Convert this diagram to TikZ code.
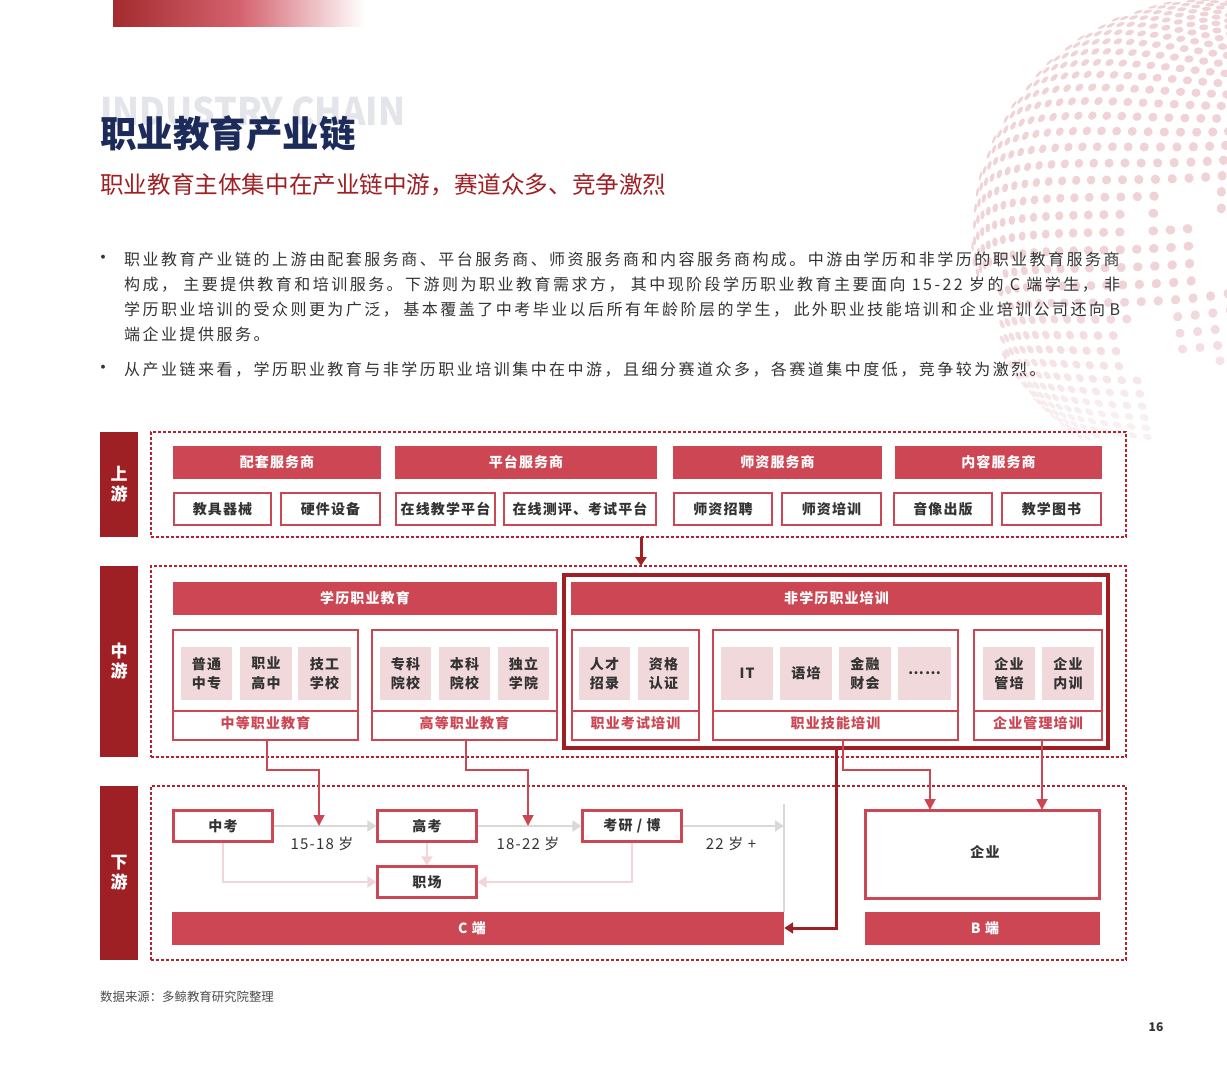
\documentclass[tikz,border=0pt]{standalone}
\usepackage{fontspec}
\usepackage{xcolor}
\setmainfont{Noto Sans CJK SC}
\newfontfamily\bodyfont[LetterSpace=15.5]{Noto Sans CJK SC}
\newfontfamily\boxfont[LetterSpace=8]{Noto Sans CJK SC}
\usetikzlibrary{arrows.meta,positioning,calc}
\definecolor{navy}{HTML}{1C2B5A}
\definecolor{darkred}{HTML}{9E2024}
\definecolor{midred}{HTML}{CC4654}
\definecolor{tilepink}{HTML}{F1D8DB}
\definecolor{linkpink}{HTML}{F2D5D8}
\definecolor{dotpink}{HTML}{EFD3D7}
\definecolor{inkgray}{HTML}{333333}
\definecolor{wash}{HTML}{E4E5EA}
\definecolor{dashred}{HTML}{B5212E}
\tikzset{
    hdrbox/.style={fill=midred, text=white, inner sep=0pt, font=\boxfont\bfseries\fontsize{14}{17}\selectfont},
    subbox/.style={draw=midred, line width=2.1pt, fill=white, text=inkgray, inner sep=0pt, font=\boxfont\bfseries\fontsize{14}{17}\selectfont},
    tilebox/.style={fill=tilepink, text=inkgray, inner sep=0pt, align=center, minimum height=53pt, font=\boxfont\bfseries\fontsize{14}{19.5}\selectfont},
    groupbox/.style={draw=midred, line width=1.6pt, fill=white, inner sep=0pt},
    grouptag/.style={text=midred, inner sep=0pt, font=\boxfont\bfseries\fontsize{14}{17}\selectfont},
    sidebox/.style={fill=darkred, text=white, inner sep=0pt, align=center, minimum width=38pt, font=\bfseries\fontsize{17}{20}\selectfont},
    dashframe/.style={draw=dashred, line width=1.3pt, dash pattern=on 3pt off 2pt, inner sep=0pt},
    bodyline/.style={anchor=west, inner sep=0pt, text=inkgray, font=\bodyfont\fontsize{16}{18}\selectfont},
    agetext/.style={inner sep=0pt, text=inkgray, font=\boxfont\fontsize{15}{17}\selectfont},
    linkred/.style={draw=midred, line width=1.8pt, -{Triangle[length=11pt,width=11pt]}},
    linkdark/.style={draw=darkred, line width=3pt, -{Triangle[length=9pt,width=11pt]}},
    linkgray/.style={draw=black!15, line width=1.8pt, -{Triangle[length=9pt,width=11pt]}},
    linkpale/.style={draw=linkpink, line width=1.8pt, -{Triangle[length=9pt,width=11pt]}}
}
\begin{document}
\begin{tikzpicture}[x=1pt,y=-1pt]
    \useasboundingbox (0,0) rectangle (1227,1079);

    % Top bar
    \shade[left color=darkred!95!white, right color=white, middle color=midred!85!white] (113,0) rectangle (365,26);

    % Dotted globe
    \begin{scope}
        \clip (0,0) rectangle (1227,1079);
        \foreach \row in {-28,...,28} {
            \foreach \kk in {-17,...,17} {
                \pgfmathsetmacro\la{\row*3}
                \pgfmathsetmacro\lo{\kk*6+3*mod(abs(\row),2)}
                \pgfmathsetmacro\yo{sin(\la)*cos(20)-cos(\la)*cos(\lo)*sin(20)}
                \pgfmathsetmacro\zz{sin(\la)*sin(20)+cos(\la)*cos(\lo)*cos(20)}
                \pgfmathsetmacro\xo{cos(\la)*sin(\lo)}
                \pgfmathsetmacro\px{1211+240*(\xo*cos(40)+\yo*sin(40))}
                \pgfmathsetmacro\py{238-240*(-\xo*sin(40)+\yo*cos(40))}
                \pgfmathtruncatemacro\keep{(\zz>0.1)&&(\py<438)&&!(\px>1160&&\px<1215&&\py>180&&\py<216)&&!(\px>1215&&\py>212&&\py<293)&&!(\px>1197&&\py>216&&\py<290)&&!(\px>1127&&\px<1143&&\py>207&&\py<243)&&!(\px>1123&&\px<1133&&\py>250&&\py<273)&&!(\px>1127&&\px<1172&&\py>312&&\py<378)&&!(\px>1150&&\py>362)&&!(\px<1000&&\py>275)}
                \ifnum\keep=1
                    \pgfmathsetmacro\op{\py<290 ? 1 : max(0.35,1-(\py-290)/200)}
                    \pgfmathsetmacro\rad{atan2(238-\py,\px-1211)}
                    \pgfmathsetmacro\rr{4.6*\zz^0.8+0.4}
                    \fill[dotpink, opacity=\op, rotate around={\rad:(\px,\py)}] (\px,\py) ellipse [x radius=\rr, y radius=4.6];
                \fi
            }
        }
    \end{scope}

    % Title
    \node[anchor=west, inner sep=0pt, text=wash, font=\bfseries\fontsize{38}{40}\selectfont] (washtitle) at (100,111) {\scalebox{0.935}[1]{INDUSTRY CHAIN}};
    \node[anchor=west, inner sep=0pt, text=navy, font=\bfseries\fontsize{36.5}{40}\selectfont] (maintitle) at (100,134) {职业教育产业链};
    \node[anchor=west, inner sep=0pt, text=darkred, font=\fontsize{23.6}{26}\selectfont] (subtitle) at (100,184.5) {职业教育主体集中在产业链中游，赛道众多、竞争激烈};

    % Body
    \node[inkgray, inner sep=0pt, font=\bfseries\fontsize{14}{16}\selectfont] (dota) at (103,259) {·};
    \node[inkgray, inner sep=0pt, font=\bfseries\fontsize{14}{16}\selectfont] (dotb) at (103,369) {·};
    \node[bodyline] (linea) at (124,259.5) {\makebox[996pt][s]{职业教育产业链的上游由配套服务商、平台服务商、师资服务商和内容服务商构成。中游由学历和非学历的职业教育服务商}};
    \node[bodyline] (lineb) at (124,284.5) {\makebox[996pt][s]{构成， 主要提供教育和培训服务。下游则为职业教育需求方， 其中现阶段学历职业教育主要面向 15-22 岁的 C 端学生， 非}};
    \node[bodyline] (linec) at (124,309.5) {\makebox[996pt][s]{学历职业培训的受众则更为广泛， 基本覆盖了中考毕业以后所有年龄阶层的学生， 此外职业技能培训和企业培训公司还向 B}};
    \node[bodyline] (lined) at (124,334.5) {端企业提供服务。};
    \node[bodyline] (linee) at (124,369.5) {从产业链来看，学历职业教育与非学历职业培训集中在中游，且细分赛道众多，各赛道集中度低，竞争较为激烈。};

    % Dashed frames
    \node[dashframe, minimum width=975pt, minimum height=105pt] (upframe) at (638.5,484.5) {};
    \node[dashframe, minimum width=975pt, minimum height=191pt] (midframe) at (638.5,661.5) {};
    \node[dashframe, minimum width=975pt, minimum height=174pt] (downframe) at (638.5,873) {};

    % Side labels
    \node[sidebox, minimum height=105pt] (sideup) at (119,484.5) {上\\游};
    \node[sidebox, minimum height=191pt] (sidemid) at (119,661.5) {中\\游};
    \node[sidebox, minimum height=174pt] (sidedown) at (119,873) {下\\游};

    % Upstream
    \foreach \nm/\xa/\xb/\txt in {peitao/173/381/配套服务商, pingtai/395/657/平台服务商, shizi/673/882/师资服务商, neirong/895/1102/内容服务商}
        \node[hdrbox, minimum width={(\xb-\xa)*1pt}, minimum height=33pt] (\nm) at ({(\xa+\xb)/2},462.5) {\txt};
    \foreach \nm/\xa/\xb/\txt in {jiaoju/174/271/教具器械, yingjian/281/380/硬件设备, zaixian/396/495/在线教学平台, ceping/504/656/在线测评、考试平台, zhaopin/674/772/师资招聘, peixun/782/881/师资培训, yinxiang/894/992/音像出版, tushu/1002/1101/教学图书}
        \node[subbox, minimum width={(\xb-\xa)*1pt}, minimum height=32pt] (\nm) at ({(\xa+\xb)/2},509) {\txt};

    % Thick frame
    \node[draw=darkred, line width=3.6pt, inner sep=0pt, minimum width=544pt, minimum height=173pt] (feixueli) at (836,661.5) {};

    % Midstream headers
    \node[hdrbox, minimum width=384pt, minimum height=33pt] (xueli) at (365,598.5) {学历职业教育};
    \node[hdrbox, minimum width=531pt, minimum height=33pt] (feihead) at (836.5,598.5) {非学历职业培训};

    % Groups
    \foreach \nm/\xa/\xb/\txt in {zhongdeng/173/358/中等职业教育, gaodeng/372/557/高等职业教育, kaoshi/572/699/职业考试培训, jineng/713/958/职业技能培训, guanli/974/1102/企业管理培训} {
        \node[groupbox, minimum width={(\xb-\xa)*1pt}, minimum height=110pt] (\nm) at ({(\xa+\xb)/2},685) {};
        \draw[midred, line width=1.6pt] (\xa,711) -- (\xb,711);
        \node[grouptag] (\nm tag) at ({(\xa+\xb)/2},723.5) {\txt};
    }

    % Tiles
    \foreach \nm/\xa/\xb/\txt in {tilea/181/232/普通\\中专, tileb/240/292/职业\\高中, tilec/298/351/技工\\学校, tiled/380/431/专科\\院校, tilee/439/490/本科\\院校, tilef/498/549/独立\\学院, tileg/579/630/人才\\招录, tileh/638/689/资格\\认证, tilei/721/773/IT, tilej/780/832/语培, tilek/839/891/金融\\财会, tilel/898/951/……, tilem/983/1035/企业\\管培, tilen/1042/1094/企业\\内训}
        \node[tilebox, minimum width={(\xb-\xa)*1pt}] (\nm) at ({(\xa+\xb)/2},673.5) {\txt};

    % Downstream
    \node[subbox, minimum width=99pt, minimum height=31pt] (zhongkao) at (223,826) {中考};
    \node[subbox, minimum width=99pt, minimum height=31pt] (gaokao) at (427,826) {高考};
    \node[subbox, minimum width=99pt, minimum height=31pt] (kaoyan) at (632,826) {考研 / 博};
    \node[subbox, minimum width=99pt, minimum height=31pt] (zhichang) at (427,882) {职场};
    \node[subbox, minimum width=234pt, minimum height=88pt] (qiye) at (982.5,854.5) {};
    \node[text=inkgray, inner sep=0pt, font=\boxfont\bfseries\fontsize{14}{17}\selectfont] (qiyetxt) at (985,852) {企业};
    \node[hdrbox, minimum width=612pt, minimum height=33pt] (cduan) at (478,928) {};
    \node[hdrbox] (ctxt) at (472,928) {C 端};
    \node[hdrbox, minimum width=235pt, minimum height=33pt] (bduan) at (982.5,928) {};
    \node[hdrbox] (btxt) at (985,928) {B 端};
    \node[agetext] (agea) at (322,844) {15-18 岁};
    \node[agetext] (ageb) at (528,844) {18-22 岁};
    \node[agetext] (agec) at (731,844) {22 岁 +};

    % Free ends
    \coordinate (endline) at (784,826);
    \coordinate (linetop) at (784,804);
    \coordinate (linebot) at (784,912);
    \coordinate (hita) at (319,826);
    \coordinate (hitb) at (528,826);
    \coordinate (upout) at (641,537);
    \coordinate (midin) at (641,566);
    \coordinate (zdout) at (267,740);
    \coordinate (gdout) at (466,740);
    \coordinate (jinout) at (843,740);
    \coordinate (guanout) at (1042,740);
    \coordinate (qiyea) at (930,810);
    \coordinate (qiyeb) at (1042,810);

    % Grey and pale flows
    \draw[black!15, line width=1.3pt] (linetop) -- (linebot);
    \draw[linkgray] (zhongkao.east) -- (gaokao.west);
    \draw[linkgray] (gaokao.east) -- (kaoyan.west);
    \draw[linkgray] (kaoyan.east) -- (endline);
    \draw[linkpale] (gaokao.south) -- (zhichang.north);
    \draw[linkpale] (zhongkao.south) |- (zhichang.west);
    \draw[linkpale] (kaoyan.south) |- (zhichang.east);

    % Red flows
    \draw[linkred] (zdout) -- ++(0,30) -| (hita);
    \draw[linkred] (gdout) -- ++(0,30) -| (hitb);
    \draw[linkred] (jinout) -- ++(0,30) -| (qiyea);
    \draw[linkred] (guanout) -- (qiyeb);

    % Dark flows
    \draw[linkdark] (upout) -- (midin);
    \draw[linkdark] (feixueli.south) |- (cduan.east);

    % Footer
    \node[anchor=west, inner sep=0pt, text=black!70, font=\fontsize{12.4}{14}\selectfont] (source) at (100,997) {数据来源：多鲸教育研究院整理};
    \node[inner sep=0pt, text=inkgray, font=\bfseries\fontsize{12}{14}\selectfont] (pageno) at (1156,1027) {16};
\end{tikzpicture}
\end{document}
